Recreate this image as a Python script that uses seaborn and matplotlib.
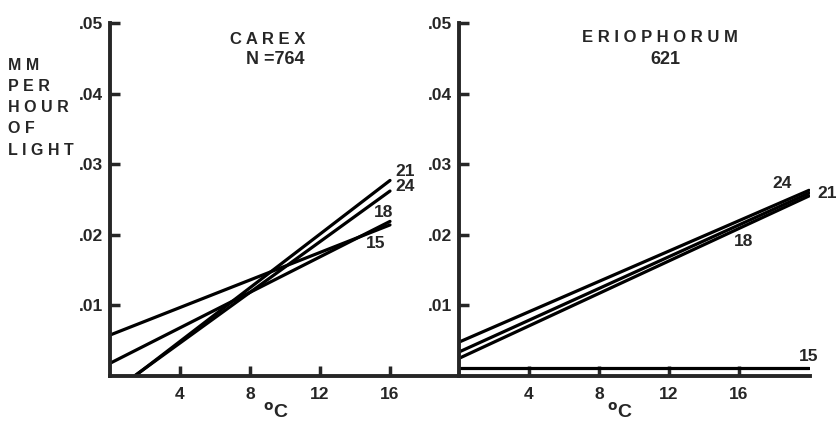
import matplotlib
matplotlib.use("Agg")
import matplotlib.pyplot as plt
import pandas as pd
import seaborn as sns

sns.set_style("ticks")
plt.rcParams['font.family'] = ['Liberation Sans', 'DejaVu Sans']
plt.rcParams['font.weight'] = 'bold'

# growth rate (mm per hour of light) vs soil temperature, one line per air temp
temps = [15, 18, 21, 24]

carex_x = [0, 16]
carex_15 = [0.0058, 0.0214]
carex_18 = [0.0018, 0.0219]
carex_21 = [-0.0027, 0.0277]
carex_24 = [-0.0025, 0.0262]

erio_x = [0, 20]
erio_15 = [0.0011, 0.0011]
erio_18 = [0.0025, 0.0255]
erio_21 = [0.0034, 0.0259]
erio_24 = [0.0048, 0.0263]

y_ticks = [0.01, 0.02, 0.03, 0.04, 0.05]
y_ticklabels = [".01", ".02", ".03", ".04", ".05"]
x_ticks = [4, 8, 12, 16]


def _long(xs, series):
    rows = []
    for t, ys in zip(temps, series):
        for x, y in zip(xs, ys):
            rows.append({"temp": t, "x": x, "y": y})
    return pd.DataFrame(rows)


carex_df = _long(carex_x, [carex_15, carex_18, carex_21, carex_24])
erio_df = _long(erio_x, [erio_15, erio_18, erio_21, erio_24])

fig = plt.figure(figsize=(8.36, 4.42), dpi=100)
ax1 = fig.add_axes([110 / 836, 66 / 442, 349 / 836, 353 / 442])
ax2 = fig.add_axes([459 / 836, 66 / 442, 351 / 836, 353 / 442])

for ax, df, xmax in [(ax1, carex_df, 349 / 17.5), (ax2, erio_df, 351 / 17.5)]:
    sns.lineplot(data=df, x="x", y="y", units="temp", estimator=None,
                 color="black", linewidth=2.3, ax=ax, legend=False)
    ax.set_xlim(0, xmax)
    ax.set_ylim(0, 0.05)
    ax.set_xticks(x_ticks)
    ax.set_xticklabels([str(v) for v in x_ticks])
    ax.set_yticks(y_ticks)
    ax.set_yticklabels(y_ticklabels)
    ax.tick_params(direction="in", length=7, width=2.5, labelsize=12.5)
    ax.tick_params(axis="x", pad=8)
    ax.tick_params(axis="y", pad=5)
    ax.set_xlabel("")
    ax.set_ylabel("")
    for side in ["top", "right"]:
        ax.spines[side].set_visible(False)
    for side in ["left", "bottom"]:
        ax.spines[side].set_linewidth(2.8)
    ax.patch.set_alpha(0)

# line end labels
lab = dict(fontsize=12.5, fontweight="bold", va="center")
ax1.text(16.3, 0.0289, "21", **lab)
ax1.text(16.3, 0.0268, "24", **lab)
ax1.text(15.1, 0.0231, "18", **lab)
ax1.text(14.6, 0.0188, "15", **lab)
ax2.text(17.9, 0.0272, "24", **lab)
ax2.text(20.5, 0.0259, "21", **lab)
ax2.text(15.7, 0.0190, "18", **lab)
ax2.text(19.4, 0.0028, "15", **lab)

# titles
fig.text(268 / 836, 1 - 39 / 442, "C A R E X", fontsize=12, fontweight="bold",
         ha="center", va="center")
fig.text(305 / 836, 1 - 59 / 442, "N =764", fontsize=13, fontweight="bold",
         ha="right", va="center")
fig.text(660 / 836, 1 - 38 / 442, "E R I O P H O R U M", fontsize=12,
         fontweight="bold", ha="center", va="center")
fig.text(665 / 836, 1 - 59 / 442, "621", fontsize=13, fontweight="bold",
         ha="center", va="center")

# y label stacked
for i, word in enumerate(["M M", "P E R", "H O U R", "O F", "L I G H T"]):
    fig.text(8 / 836, 1 - (65 + i * 21.3) / 442, word, fontsize=11.5,
             fontweight="bold", ha="left", va="center")

# x labels
for xc in [276, 620]:
    fig.text(xc / 836, 1 - 412 / 442, r"$^{\mathbf{o}}$C", fontsize=14,
             fontweight="bold", ha="center", va="center")

fig.savefig("out.png", dpi=100)
